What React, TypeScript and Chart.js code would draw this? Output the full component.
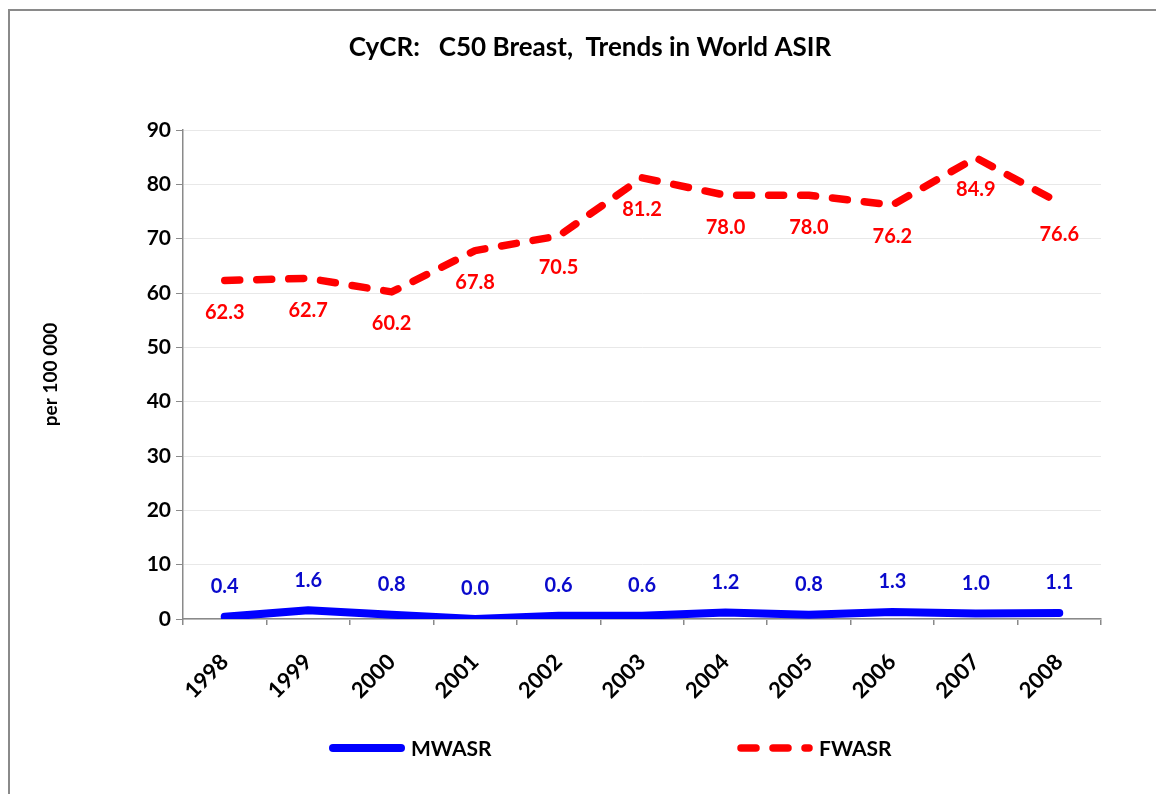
import React, { useEffect, useRef } from "react";
import { Chart, registerables } from "chart.js";

Chart.register(...registerables);

const years = ["1998", "1999", "2000", "2001", "2002", "2003", "2004", "2005", "2006", "2007", "2008"];
const mwasr = [0.4, 1.6, 0.8, 0.0, 0.6, 0.6, 1.2, 0.8, 1.3, 1.0, 1.1];
const fwasr = [62.3, 62.7, 60.2, 67.8, 70.5, 81.2, 78.0, 78.0, 76.2, 84.9, 76.6];
const seriesNames = ["MWASR", "FWASR"];
const yMin = 0;
const yMax = 90;
const yStep = 10;
const chartTitle = "CyCR:   C50 Breast,  Trends in World ASIR";
const yAxisTitle = "per 100 000";

const FONT = "Lato, 'Open Sans', sans-serif";
const CANVAS_W = 1146;
const CANVAS_H = 783;

const valueLabels = {
  id: "valueLabels",
  afterDatasetsDraw(chart: any) {
    const ctx = chart.ctx;
    ctx.save();
    ctx.font = `bold 20px ${FONT}`;
    ctx.textAlign = "center";
    ctx.textBaseline = "middle";
    chart.data.datasets.forEach((ds: any, i: number) => {
      const meta = chart.getDatasetMeta(i);
      ctx.fillStyle = ds.labelColor;
      meta.data.forEach((pt: any, j: number) => {
        ctx.fillText(Number(ds.data[j]).toFixed(1), pt.x, pt.y + ds.labelOffset);
      });
    });
    ctx.restore();
  },
};

const excelTitle = {
  id: "excelTitle",
  afterDraw(chart: any) {
    const opts = chart.options.plugins.excelTitle;
    const ctx = chart.ctx;
    ctx.save();
    ctx.fillStyle = "#000";
    ctx.font = `bold 26px ${FONT}`;
    ctx.textAlign = "center";
    ctx.textBaseline = "middle";
    ctx.fillText(opts.text, opts.x, opts.y);
    ctx.restore();
  },
};

const excelLegend = {
  id: "excelLegend",
  afterDraw(chart: any) {
    const ctx = chart.ctx;
    const opts = chart.options.plugins.excelLegend;
    ctx.save();
    chart.data.datasets.forEach((ds: any, i: number) => {
      const x0 = opts.starts[i];
      const y = opts.y;
      ctx.beginPath();
      ctx.strokeStyle = ds.borderColor;
      ctx.lineWidth = ds.borderWidth;
      ctx.lineCap = "round";
      ctx.setLineDash(ds.borderDash || []);
      ctx.moveTo(x0, y);
      ctx.lineTo(x0 + opts.lineLen, y);
      ctx.stroke();
      ctx.setLineDash([]);
      ctx.fillStyle = "#000";
      ctx.font = `bold 21px ${FONT}`;
      ctx.textAlign = "left";
      ctx.textBaseline = "middle";
      ctx.fillText(ds.label, x0 + opts.lineLen + opts.textGap, y + 1);
    });
    ctx.restore();
  },
};

export default function App() {
  const ref = useRef<HTMLCanvasElement | null>(null);

  useEffect(() => {
    if (!ref.current) return;
    const chart = new Chart(ref.current, {
      type: "line",
      data: {
        labels: years,
        datasets: [
          {
            label: seriesNames[0],
            data: mwasr,
            borderColor: "#0000ff",
            backgroundColor: "#0000ff",
            borderWidth: 8,
            borderCapStyle: "round",
            borderJoinStyle: "round",
            pointRadius: 0,
            tension: 0,
            labelColor: "#0a0acc",
            labelOffset: -30,
          } as any,
          {
            label: seriesNames[1],
            data: fwasr,
            borderColor: "#ff0000",
            backgroundColor: "#ff0000",
            borderWidth: 7.5,
            borderDash: [15, 17],
            borderCapStyle: "round",
            borderJoinStyle: "round",
            pointRadius: 0,
            tension: 0,
            labelColor: "#ff0000",
            labelOffset: 32,
          } as any,
        ],
      },
      options: {
        responsive: false,
        animation: false,
        layout: { padding: { left: 0, right: 55, top: 119, bottom: 0 } },
        plugins: {
          legend: { display: false },
          tooltip: { enabled: false },
          title: { display: false },
          excelTitle: { text: chartTitle, x: 580, y: 37 },
          excelLegend: { starts: [323, 731], y: 737, lineLen: 68, textGap: 10 },
        } as any,
        scales: {
          x: {
            type: "category",
            offset: true,
            grid: {
              display: true,
              offset: true,
              drawOnChartArea: false,
              tickColor: "#8a8a8a",
              tickLength: 6,
              lineWidth: 1.5,
            },
            border: { color: "#8a8a8a", width: 1.5 },
            ticks: {
              autoSkip: false,
              minRotation: 45,
              maxRotation: 45,
              color: "#000",
              font: { family: FONT, size: 22, weight: "bold" },
              padding: 24,
            },
            afterFit: (s: any) => {
              s.height = CANVAS_H - 608;
            },
          },
          y: {
            min: yMin,
            max: yMax,
            ticks: {
              stepSize: yStep,
              color: "#000",
              font: { family: FONT, size: 21, weight: "bold" },
              padding: 5,
            },
            grid: {
              color: "#e8e8e8",
              tickColor: "#8a8a8a",
              tickLength: 7,
              lineWidth: 1,
            },
            border: { color: "#8a8a8a", width: 1.5 },
            title: {
              display: true,
              text: yAxisTitle,
              color: "#000",
              font: { family: FONT, size: 19, weight: "bold", lineHeight: 1.2 },
              padding: { top: 29, bottom: 0 },
            },
            afterFit: (s: any) => {
              s.width = 173;
            },
          },
        },
      },
      plugins: [valueLabels, excelTitle, excelLegend],
    });
    return () => chart.destroy();
  }, []);

  return (
    <div
      style={{
        position: "fixed",
        left: 0,
        top: 0,
        width: 1156,
        height: 794,
        overflow: "hidden",
        background: "#fff",
      }}
    >
      <div
        style={{
          position: "absolute",
          left: 8,
          top: 9,
          width: 1170,
          height: 810,
          border: "2px solid #8a8a8a",
          boxSizing: "border-box",
        }}
      >
        <canvas
          ref={ref}
          width={CANVAS_W}
          height={CANVAS_H}
          style={{ position: "absolute", left: 0, top: 0, width: CANVAS_W, height: CANVAS_H }}
        />
      </div>
    </div>
  );
}
